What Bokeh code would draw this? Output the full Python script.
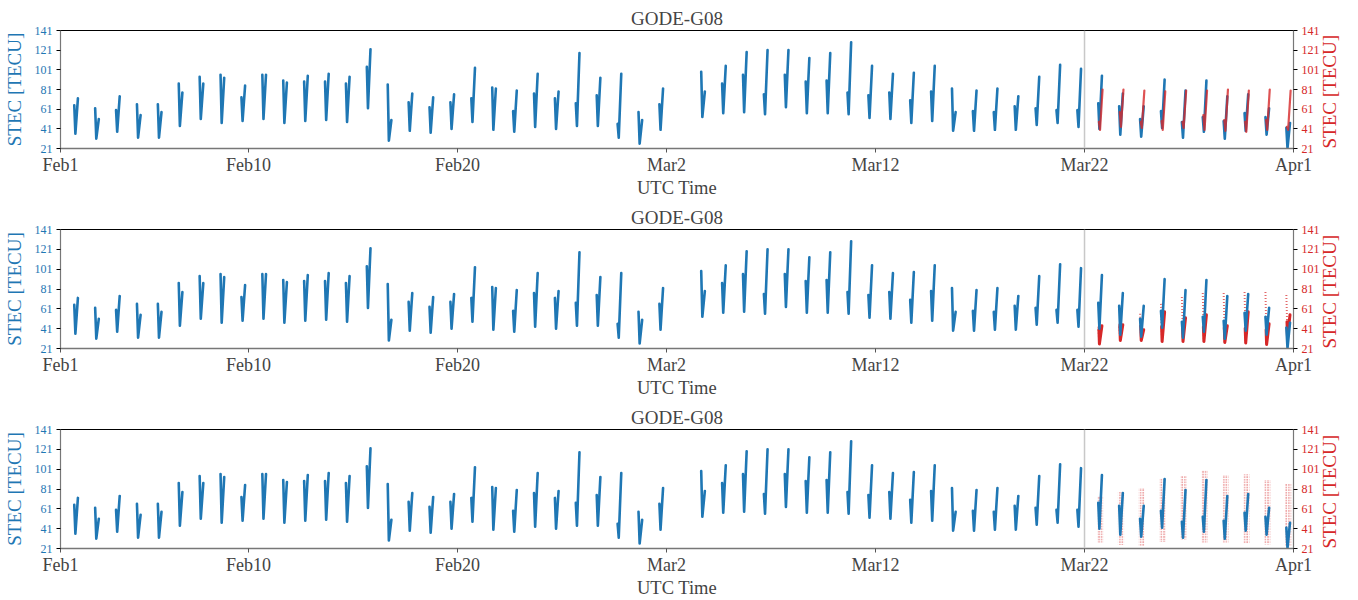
import math
from bokeh.plotting import figure
from bokeh.models import Range1d, LinearAxis, FixedTicker, Span
from bokeh.layouts import column
from bokeh.embed import file_html
from bokeh.resources import INLINE

# ---------------- data ----------------
tick_days = [0, 9, 19, 29, 39, 49, 59]
tick_labels = ["Feb1", "Feb10", "Feb20", "Mar2", "Mar12", "Mar22", "Apr1"]
y_ticks = [21, 41, 61, 81, 101, 121, 141]
forecast_day = 49          # Mar22
station_title = "GODE-G08"

# observed passes (day offset since Feb1); day 29 (Mar2) has no pass
pass_days = list(range(0, 29)) + list(range(30, 59))
obs_start = [65, 62, 60, 66, 66, 87, 94, 96, 73, 96, 90, 89, 89, 87, 104, 86, 68, 63, 68, 72,
             83, 59, 77, 72, 67, 75, 46, 58, 66,
             99, 87, 96, 76, 96, 89, 90, 78, 75, 78, 70, 79, 82, 59, 58, 64, 62, 60, 60,
             67, 64, 51, 59, 48, 53, 49, 57, 53, 42]
obs_min = [36, 31, 38, 32, 32, 44, 51, 47, 49, 51, 47, 49, 50, 48, 62, 29, 39, 37, 41, 48,
           40, 38, 43, 41, 44, 44, 32, 26, 40,
           53, 57, 58, 56, 63, 57, 57, 56, 52, 51, 47, 49, 39, 39, 40, 40, 45, 47, 43,
           41, 35, 33, 42, 32, 38, 31, 39, 35, 21.5]
obs_end = [72, 51, 74, 55, 58, 78, 87, 93, 85, 96, 88, 95, 97, 94, 122, 50, 77, 73, 76, 103,
           82, 80, 97, 79, 118, 93, 97, 50, 82,
           79, 105, 119, 121, 121, 113, 118, 129, 105, 97, 98, 105, 58, 80, 82, 74, 94, 106, 102,
           95, 77, 64, 91, 80, 90, 74, 76, 62, 47]

# forecast passes (Mar22 .. Mar31)
pred_days = [49, 50, 51, 52, 53, 54, 55, 56, 57, 58]
# panel 1
pred1_start = [48, 58, 48, 49, 48, 55, 50, 48, 50, 43]
pred1_min = [40, 43, 42, 40, 42, 40, 39, 38, 40, 40]
pred1_end = [81, 81, 80, 79, 80, 80, 81, 80, 81, 80]
# panel 2
pred2_start = [43, 46, 56, 66, 73, 77, 77, 78, 78, 75]
pred2_min = [25.5, 29, 29, 28, 28, 28, 27, 26.5, 25, 33]
pred2_end = [44, 45, 40, 58, 52, 55, 44, 58, 46, 55]
# panel 3 (scattered)
pred3_lo = [27, 24.5, 23.5, 27.5, 30, 27, 27, 26, 25, 23.5]
pred3_hi = [74, 78, 82, 92, 94, 100, 95, 96, 90, 86]

PASS_HOUR = 15.8      # pass start (UTC hour)
MIN_HOUR = 1.3        # hours after start of pass minimum
END_HOUR = 4.2        # visible pass length in hours

BLUE = "#1f77b4"
RED = "#d62728"
FONT = "Liberation Serif"
Y_LABEL = "STEC [TECU]"


def pass_paths(days, a, b, c):
    xs, ys = [], []
    for d, s, m, e in zip(days, a, b, c):
        t0 = d + PASS_HOUR / 24
        xs.append([t0, t0 + MIN_HOUR / 24, t0 + END_HOUR / 24])
        ys.append([s, m, e])
    return xs, ys


def style_yaxis(ax, color):
    ax.ticker = FixedTicker(ticks=y_ticks)
    ax.axis_label = Y_LABEL
    ax.axis_label_text_color = color
    ax.axis_label_text_font = FONT
    ax.axis_label_text_font_style = "normal"
    ax.axis_label_text_font_size = "19px"
    ax.axis_label_standoff = 7
    ax.major_label_text_color = color
    ax.major_label_text_font = FONT
    ax.major_label_text_font_size = "12px"
    ax.major_label_standoff = 4
    ax.minor_tick_line_color = None
    ax.major_tick_out = 4
    ax.major_tick_in = 0
    ax.axis_line_color = "#777777"
    ax.axis_line_width = 1.2


def make_panel(kind, height, top, bottom):
    p = figure(width=1353, height=height, output_backend="svg", toolbar_location=None,
               x_range=Range1d(0, 59), y_range=Range1d(21, 141),
               min_border_left=59, min_border_right=58,
               min_border_top=top, min_border_bottom=bottom,
               title=station_title)
    p.title.align = "center"
    p.title.text_font = FONT
    p.title.text_font_size = "19px"
    p.title.text_font_style = "normal"
    p.title.standoff = 3
    p.title.offset = 0
    p.xgrid.visible = False
    p.ygrid.visible = False
    p.outline_line_color = "black"
    p.outline_line_width = 1
    p.background_fill_color = "white"
    p.border_fill_color = "white"

    # x axis
    xa = p.xaxis[0]
    xa.ticker = FixedTicker(ticks=tick_days)
    xa.major_label_overrides = {d: l for d, l in zip(tick_days, tick_labels)}
    xa.axis_label = "UTC Time"
    xa.axis_label_text_font = FONT
    xa.axis_label_text_font_style = "normal"
    xa.axis_label_text_font_size = "18.5px"
    xa.axis_label_standoff = 0
    xa.major_label_text_font = FONT
    xa.major_label_text_font_size = "18px"
    xa.major_label_standoff = 2
    xa.minor_tick_line_color = None
    xa.major_tick_out = 4
    xa.major_tick_in = 0
    xa.axis_line_color = "#777777"
    xa.axis_line_width = 1.5
    xa.major_tick_line_color = "#555555"

    style_yaxis(p.yaxis[0], BLUE)
    ra = LinearAxis()
    style_yaxis(ra, RED)
    ra.axis_label_orientation = math.pi / 2
    ra.axis_label_align = "start"
    p.add_layout(ra, "right")

    p.add_layout(Span(location=forecast_day, dimension="height",
                      line_color="#c8c8c8", line_width=1.5))

    bx, by = pass_paths(pass_days, obs_start, obs_min, obs_end)
    blue_kw = dict(line_color=BLUE, line_width=2.6, line_join="round", line_cap="round")

    if kind == 1:
        p.multi_line(bx, by, **blue_kw)
        rx, ry = pass_paths(pred_days, pred1_start, pred1_min, pred1_end)
        rx = [[x + 0.03 for x in xx] for xx in rx]
        p.multi_line(rx, ry, line_color=RED, line_width=2.2, line_alpha=0.8,
                     line_join="round", line_cap="round")
    elif kind == 2:
        rx, ry = pass_paths(pred_days, pred2_start, pred2_min, pred2_end)
        down_x = [xx[:2] for xx in rx]
        down_y = [yy[:2] for yy in ry]
        p.multi_line(down_x, down_y, line_color=RED, line_width=2, line_alpha=0.7,
                     line_dash="1 2")
        low_x = [[xx[0] + 0.03, xx[1], xx[2]] for xx in rx]
        low_y = [[min(yy[0], yy[1] + 15), yy[1], yy[2]] for yy in ry]
        p.multi_line(low_x, low_y, line_color=RED, line_width=3, line_join="round",
                     line_cap="round")
        p.multi_line(bx, by, **blue_kw)
    else:
        left = [d + PASS_HOUR / 24 - 0.06 for d in pred_days]
        right = [d + (PASS_HOUR + END_HOUR) / 24 + 0.06 for d in pred_days]
        p.quad(left=left, right=right, bottom=pred3_lo, top=pred3_hi,
               fill_color=None, line_color=None, hatch_pattern="dot",
               hatch_color=RED, hatch_scale=2.6, hatch_weight=2.0, hatch_alpha=0.9)
        p.multi_line(bx, by, **blue_kw)
    return p


p1 = make_panel(1, 200, 30, 47)
p2 = make_panel(2, 200, 29, 48)
p3 = make_panel(3, 200, 29, 48)

layout = column(p1, p2, p3, spacing=0)
open("out.html", "w").write(file_html(layout, INLINE))
